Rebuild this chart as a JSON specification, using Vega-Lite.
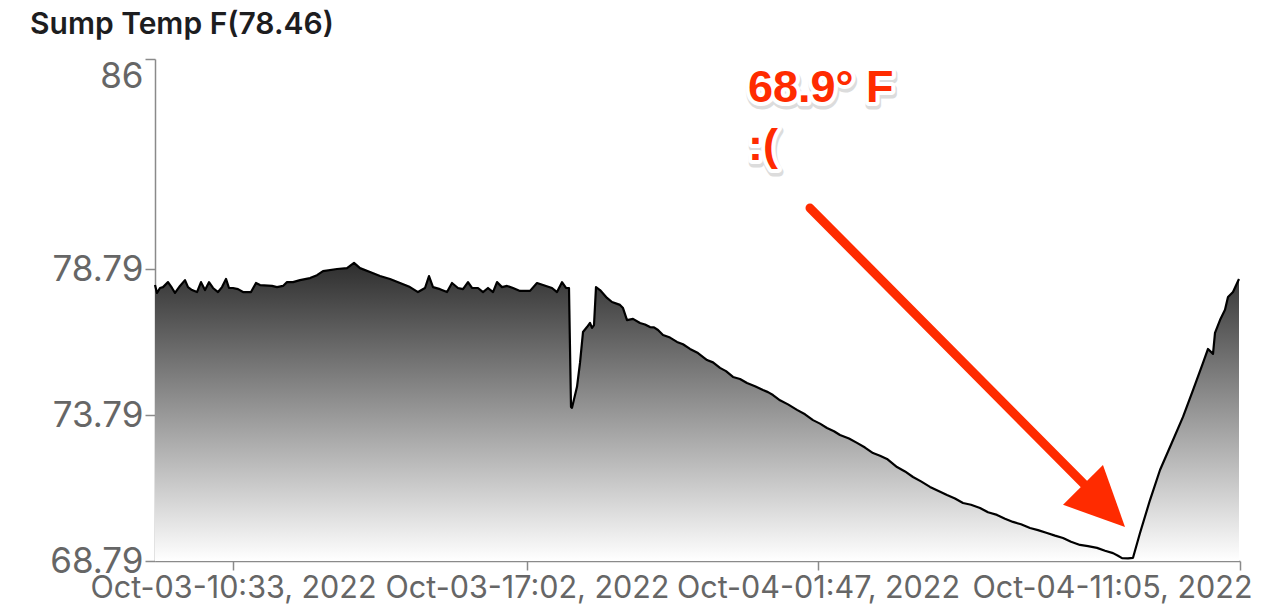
{
  "$schema": "https://vega.github.io/schema/vega-lite/v6.json",
  "autosize": {"type": "none"},
  "padding": {"left": 155, "top": 59, "right": 40, "bottom": 48},
  "width": 1085,
  "height": 502,
  "background": "white",
  "config": {"view": {"stroke": null}, "font": "Inter"},
  "title": {
    "text": "Sump Temp F(78.46)",
    "anchor": "start",
    "frame": "group",
    "dx": -125,
    "offset": 18,
    "font": "Inter",
    "fontSize": 30,
    "fontWeight": 600,
    "color": "#1d1d1f"
  },
  "datasets": {
    "temps": [
      {"i": 0, "v": 78.25}, {"i": 2, "v": 77.98}, {"i": 5, "v": 78.15}, {"i": 8, "v": 78.18},
      {"i": 13, "v": 78.35}, {"i": 17, "v": 78.15}, {"i": 20, "v": 77.98}, {"i": 25, "v": 78.22},
      {"i": 30, "v": 78.42}, {"i": 33, "v": 78.18}, {"i": 37, "v": 78.08}, {"i": 42, "v": 78.01},
      {"i": 46, "v": 78.35}, {"i": 50, "v": 78.08}, {"i": 54, "v": 78.35}, {"i": 58, "v": 78.15},
      {"i": 63, "v": 78.01}, {"i": 67, "v": 78.18}, {"i": 71, "v": 78.46}, {"i": 74, "v": 78.15},
      {"i": 78, "v": 78.15}, {"i": 83, "v": 78.11}, {"i": 88, "v": 78.01}, {"i": 96, "v": 78.01},
      {"i": 101, "v": 78.32}, {"i": 105, "v": 78.25}, {"i": 117, "v": 78.22}, {"i": 122, "v": 78.18},
      {"i": 128, "v": 78.22}, {"i": 132, "v": 78.35}, {"i": 138, "v": 78.35}, {"i": 145, "v": 78.42},
      {"i": 155, "v": 78.49}, {"i": 162, "v": 78.59}, {"i": 168, "v": 78.73}, {"i": 182, "v": 78.80},
      {"i": 192, "v": 78.83}, {"i": 199, "v": 79.01}, {"i": 205, "v": 78.83}, {"i": 215, "v": 78.70},
      {"i": 225, "v": 78.56}, {"i": 235, "v": 78.46}, {"i": 245, "v": 78.32}, {"i": 255, "v": 78.18},
      {"i": 263, "v": 78.01}, {"i": 270, "v": 78.15}, {"i": 274, "v": 78.56}, {"i": 278, "v": 78.18},
      {"i": 285, "v": 78.11}, {"i": 292, "v": 78.01}, {"i": 297, "v": 78.32}, {"i": 303, "v": 78.15},
      {"i": 308, "v": 78.11}, {"i": 313, "v": 78.35}, {"i": 317, "v": 78.15}, {"i": 323, "v": 78.15},
      {"i": 328, "v": 78.01}, {"i": 333, "v": 78.15}, {"i": 338, "v": 78.01}, {"i": 342, "v": 78.35},
      {"i": 347, "v": 78.18}, {"i": 352, "v": 78.22}, {"i": 358, "v": 78.15}, {"i": 365, "v": 78.05},
      {"i": 375, "v": 78.05}, {"i": 382, "v": 78.32}, {"i": 388, "v": 78.25}, {"i": 397, "v": 78.15},
      {"i": 402, "v": 78.01}, {"i": 407, "v": 78.35}, {"i": 411, "v": 78.15}, {"i": 414, "v": 78.15},
      {"i": 416, "v": 74.07}, {"i": 417, "v": 74.04}, {"i": 422, "v": 74.76}, {"i": 425, "v": 75.58},
      {"i": 428, "v": 76.64}, {"i": 432, "v": 76.81}, {"i": 435, "v": 76.95}, {"i": 437, "v": 76.78},
      {"i": 439, "v": 76.88}, {"i": 441, "v": 78.18}, {"i": 445, "v": 78.08}, {"i": 452, "v": 77.81},
      {"i": 457, "v": 77.67}, {"i": 465, "v": 77.57}, {"i": 468, "v": 77.46}, {"i": 472, "v": 77.05},
      {"i": 478, "v": 77.09}, {"i": 485, "v": 76.95}, {"i": 490, "v": 76.90}, {"i": 495, "v": 76.81},
      {"i": 499, "v": 76.80}, {"i": 503, "v": 76.71}, {"i": 508, "v": 76.54}, {"i": 515, "v": 76.45},
      {"i": 522, "v": 76.30}, {"i": 528, "v": 76.22}, {"i": 535, "v": 76.06}, {"i": 543, "v": 75.92},
      {"i": 552, "v": 75.68}, {"i": 558, "v": 75.60}, {"i": 565, "v": 75.41}, {"i": 571, "v": 75.30},
      {"i": 578, "v": 75.10}, {"i": 585, "v": 75.03}, {"i": 592, "v": 74.89}, {"i": 600, "v": 74.78},
      {"i": 608, "v": 74.65}, {"i": 613, "v": 74.58}, {"i": 618, "v": 74.48}, {"i": 625, "v": 74.30},
      {"i": 633, "v": 74.16}, {"i": 642, "v": 73.97}, {"i": 650, "v": 73.82}, {"i": 658, "v": 73.62},
      {"i": 665, "v": 73.50}, {"i": 672, "v": 73.35}, {"i": 679, "v": 73.24}, {"i": 685, "v": 73.11},
      {"i": 694, "v": 72.99}, {"i": 702, "v": 72.84}, {"i": 710, "v": 72.68}, {"i": 718, "v": 72.49},
      {"i": 725, "v": 72.40}, {"i": 732, "v": 72.29}, {"i": 742, "v": 72.01}, {"i": 750, "v": 71.86},
      {"i": 758, "v": 71.67}, {"i": 766, "v": 71.52}, {"i": 775, "v": 71.33}, {"i": 783, "v": 71.20},
      {"i": 792, "v": 71.05}, {"i": 800, "v": 70.93}, {"i": 808, "v": 70.78}, {"i": 816, "v": 70.72},
      {"i": 825, "v": 70.61}, {"i": 833, "v": 70.46}, {"i": 842, "v": 70.37}, {"i": 850, "v": 70.24},
      {"i": 858, "v": 70.13}, {"i": 866, "v": 70.05}, {"i": 875, "v": 69.92}, {"i": 883, "v": 69.85},
      {"i": 892, "v": 69.75}, {"i": 900, "v": 69.66}, {"i": 908, "v": 69.58}, {"i": 916, "v": 69.45},
      {"i": 925, "v": 69.34}, {"i": 933, "v": 69.30}, {"i": 942, "v": 69.24}, {"i": 950, "v": 69.14},
      {"i": 958, "v": 69.06}, {"i": 963, "v": 68.97}, {"i": 967, "v": 68.89}, {"i": 973, "v": 68.88},
      {"i": 978, "v": 68.90}, {"i": 985, "v": 69.75}, {"i": 995, "v": 70.88}, {"i": 1005, "v": 71.91},
      {"i": 1015, "v": 72.70}, {"i": 1028, "v": 73.73}, {"i": 1038, "v": 74.65}, {"i": 1048, "v": 75.58},
      {"i": 1053, "v": 76.06}, {"i": 1058, "v": 75.89}, {"i": 1060, "v": 76.61}, {"i": 1065, "v": 77.05},
      {"i": 1070, "v": 77.40}, {"i": 1073, "v": 77.84}, {"i": 1078, "v": 78.01}, {"i": 1084, "v": 78.46}
    ],
    "notes": [
      {"i": 593, "v": 84.53, "t": "68.9° F"},
      {"i": 593, "v": 82.54, "t": ":("}
    ],
    "arrow": [{"i": 655, "v": 80.89, "i2": 935, "v2": 71.22}],
    "head": [{"i": 949, "v": 70.68}]
  },
  "encoding": {
    "x": {
      "field": "i",
      "type": "quantitative",
      "scale": {"domain": [0, 1085], "nice": false, "zero": false},
      "axis": {
        "title": null,
        "grid": false,
        "values": [78, 372, 663, 1085],
        "labelExpr": "datum.value == 78 ? 'Oct-03-10:33, 2022' : datum.value == 372 ? 'Oct-03-17:02, 2022' : datum.value == 663 ? 'Oct-04-01:47, 2022' : 'Oct-04-11:05, 2022'",
        "labelAlign": {"condition": {"test": "datum.value == 1085", "value": "right"}, "value": "center"},
        "labelOffset": {"condition": {"test": "datum.value == 1085", "value": 12}, "value": 0},
        "labelFont": "Inter",
        "labelFontSize": 30.5,
        "labelLimit": 0,
        "labelColor": "#666666",
        "labelOverlap": false,
        "labelFlush": false,
        "labelPadding": 3,
        "tickSize": 9,
        "tickColor": "#8a8a8a",
        "tickWidth": 1.5,
        "domainColor": "#8a8a8a",
        "domainWidth": 1.5
      }
    },
    "y": {
      "field": "v",
      "type": "quantitative",
      "scale": {"domain": [68.79, 86], "nice": false, "zero": false},
      "axis": {
        "title": null,
        "grid": false,
        "values": [68.79, 73.79, 78.79, 86],
        "labelExpr": "datum.value == 86 ? '86' : format(datum.value, '.2f')",
        "labelBaseline": {"condition": {"test": "datum.value == 86", "value": "top"}, "value": "middle"},
        "labelFont": "Inter",
        "labelFontSize": 35,
        "labelLimit": 0,
        "labelColor": "#666666",
        "labelPadding": 2,
        "labelOverlap": false,
        "labelFlush": false,
        "tickSize": 10,
        "tickColor": "#8a8a8a",
        "tickWidth": 1.5,
        "domainColor": "#8a8a8a",
        "domainWidth": 1.5
      }
    }
  },
  "layer": [
    {
      "data": {"name": "temps"},
      "mark": {
        "type": "area",
        "color": {
          "gradient": "linear",
          "x1": 0, "y1": 0, "x2": 0, "y2": 1,
          "stops": [
            {"offset": 0, "color": "#2e2e2e"},
            {"offset": 1, "color": "#ffffff"}
          ]
        }
      },
      "encoding": {"y2": {"datum": 68.79}}
    },
    {
      "data": {"name": "temps"},
      "mark": {"type": "line", "color": "#000000", "strokeWidth": 2.2, "strokeJoin": "round"}
    },
    {
      "data": {"name": "arrow"},
      "mark": {"type": "rule", "color": "#ff2b00", "strokeWidth": 9, "strokeCap": "round"},
      "encoding": {
        "x2": {"field": "i2"},
        "y2": {"field": "v2"}
      }
    },
    {
      "data": {"name": "head"},
      "mark": {
        "type": "point",
        "shape": "M1,0L-1,-0.95L-1,0.95Z",
        "size": 3530,
        "angle": 45,
        "filled": true,
        "fill": "#ff2b00",
        "stroke": null,
        "opacity": 1
      }
    },
    {
      "data": {"name": "notes"},
      "mark": {
        "type": "text",
        "align": "left",
        "baseline": "alphabetic",
        "font": "Liberation Sans",
        "fontSize": 45,
        "fontWeight": "bold",
        "stroke": "#bbbbbb",
        "strokeWidth": 9,
        "strokeJoin": "round",
        "opacity": 0.5,
        "dx": 1,
        "dy": 3
      },
      "encoding": {"text": {"field": "t"}}
    },
    {
      "data": {"name": "notes"},
      "mark": {
        "type": "text",
        "align": "left",
        "baseline": "alphabetic",
        "font": "Liberation Sans",
        "fontSize": 45,
        "fontWeight": "bold",
        "fill": "#ffffff",
        "stroke": "#ffffff",
        "strokeWidth": 8,
        "strokeJoin": "round"
      },
      "encoding": {"text": {"field": "t"}}
    },
    {
      "data": {"name": "notes"},
      "mark": {
        "type": "text",
        "align": "left",
        "baseline": "alphabetic",
        "font": "Liberation Sans",
        "fontSize": 45,
        "fontWeight": "bold",
        "fill": "#ff2b00"
      },
      "encoding": {"text": {"field": "t"}}
    }
  ]
}
